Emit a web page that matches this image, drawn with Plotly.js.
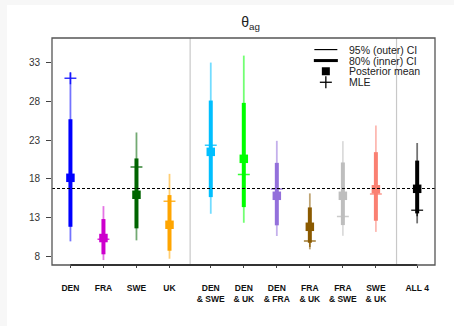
<!DOCTYPE html>
<html>
<head>
<meta charset="utf-8">
<script src="https://cdn.plot.ly/plotly-3.0.1.min.js"></script>
<style>
  html, body { margin: 0; padding: 0; background: #f7f7f7; width: 454px; height: 326px; overflow: hidden; }
  #chart { position: absolute; left: 7px; top: 5px; width: 447px; height: 321px; background: #ffffff; }
</style>
</head>
<body>
<div id="chart"></div>
<script>
// ---- data ----
const categories = ['DEN', 'FRA', 'SWE', 'UK', 'DEN<br>& SWE', 'DEN<br>& UK', 'DEN<br>& FRA',
                    'FRA<br>& UK', 'FRA<br>& SWE', 'SWE<br>& UK', 'ALL 4'];
const postMean = [18.13, 10.36, 15.94, 12.07, 21.48, 20.58, 15.81, 11.81, 15.81, 16.65, 16.71];
const mle      = [30.98, 10.19, 19.51, 15.09, 22.34, 18.56, 16.70, 9.97, 13.15, 16.03, 13.93];
const ci95Lo   = [9.93, 7.52, 10.06, 7.69, 13.49, 12.33, 10.62, 8.90, 10.65, 11.15, 12.25];
const ci95Hi   = [31.71, 14.48, 23.98, 18.64, 33.00, 33.90, 22.90, 16.12, 22.86, 24.88, 22.62];
const ci80Lo   = [11.81, 8.26, 11.61, 8.72, 15.64, 14.35, 12.00, 9.75, 12.03, 12.59, 13.54];
const ci80Hi   = [25.69, 12.81, 20.63, 15.90, 28.10, 27.80, 20.06, 14.31, 20.11, 21.44, 20.35];
const referenceValue = 16.75;
const yTickVals = [8, 13, 18, 23, 28, 33];

// ---- layout / style ----
const xPos = [1, 2, 3, 4, 5.25, 6.25, 7.25, 8.25, 9.25, 10.25, 11.5];
const separators = [4.625, 10.875];
const colors = ['#0000FF', '#CD00CD', '#006400', '#FFA500', '#00BFFF', '#00FF00',
                '#9370DB', '#8B5A00', '#BEBEBE', '#FA8072', '#000000'];

function rgba(hex, a) {
  const r = parseInt(hex.slice(1, 3), 16), g = parseInt(hex.slice(3, 5), 16), b = parseInt(hex.slice(5, 7), 16);
  return 'rgba(' + r + ',' + g + ',' + b + ',' + a + ')';
}

const traces = [];
categories.forEach((c, i) => {
  traces.push({
    x: [xPos[i], xPos[i]], y: [ci95Lo[i], ci95Hi[i]], mode: 'lines',
    line: { color: rgba(colors[i], 0.55), width: 1.8 }, hoverinfo: 'skip', showlegend: false
  });
  traces.push({
    x: [xPos[i], xPos[i]], y: [ci80Lo[i], ci80Hi[i]], mode: 'lines',
    line: { color: colors[i], width: 4 }, hoverinfo: 'skip', showlegend: false
  });
  traces.push({
    x: [xPos[i]], y: [postMean[i]], mode: 'markers',
    marker: { symbol: 'square', size: 8.5, color: colors[i] }, showlegend: false
  });
  traces.push({
    x: [xPos[i]], y: [mle[i]], mode: 'markers',
    marker: { symbol: 'cross-thin', size: 8.5, color: rgba(colors[i], 0.8),
              line: { color: rgba(colors[i], 0.8), width: 1.5 } }, showlegend: false
  });
});

const shapes = [];
// separators
separators.forEach(s => shapes.push({
  type: 'line', xref: 'x', yref: 'paper', x0: s, x1: s, y0: 0, y1: 1,
  line: { color: '#c8c8c8', width: 1.2 }
}));
// reference dashed line
shapes.push({
  type: 'line', xref: 'paper', yref: 'y', x0: 0, x1: 1, y0: referenceValue, y1: referenceValue,
  line: { color: '#000', width: 1, dash: '3px,2px' }
});
// box
shapes.push({
  type: 'rect', xref: 'paper', yref: 'paper', x0: 0, x1: 1, y0: 0, y1: 1,
  line: { color: '#555', width: 1.3 }
});
// bottom axis segment
shapes.push({
  type: 'line', xref: 'x', yref: 'paper', x0: xPos[0], x1: xPos[xPos.length - 1], y0: 0, y1: 0,
  line: { color: '#333', width: 2 }
});
// legend symbols
const lgX = 0.715, lgY = [0.949, 0.9006, 0.8535, 0.805];
shapes.push({ type: 'line', xref: 'paper', yref: 'paper', xsizemode: 'pixel', xanchor: lgX,
  x0: -11.5, x1: 11.5, y0: lgY[0], y1: lgY[0], line: { color: '#000', width: 1.2 } });
shapes.push({ type: 'line', xref: 'paper', yref: 'paper', xsizemode: 'pixel', xanchor: lgX,
  x0: -12, x1: 12, y0: lgY[1], y1: lgY[1], line: { color: '#000', width: 3 } });
shapes.push({ type: 'rect', xref: 'paper', yref: 'paper', xsizemode: 'pixel', ysizemode: 'pixel',
  xanchor: lgX, yanchor: lgY[2], x0: -4, x1: 4, y0: -4, y1: 4,
  fillcolor: '#000', line: { width: 0 } });
shapes.push({ type: 'line', xref: 'paper', yref: 'paper', xsizemode: 'pixel', xanchor: lgX,
  x0: -6, x1: 6, y0: lgY[3], y1: lgY[3], line: { color: '#000', width: 1.3 } });
shapes.push({ type: 'line', xref: 'paper', yref: 'paper', xsizemode: 'pixel', ysizemode: 'pixel',
  xanchor: lgX, yanchor: lgY[3], x0: 0, x1: 0, y0: -6, y1: 6, line: { color: '#000', width: 1.3 } });

const legendLabels = ['95% (outer) CI', '80% (inner) CI', 'Posterior mean', 'MLE'];
const annotations = legendLabels.map((t, i) => ({
  xref: 'paper', yref: 'paper', x: 0.7727, y: lgY[i], xanchor: 'left', yanchor: 'middle',
  text: t, showarrow: false, borderpad: 0,
  font: { family: 'Liberation Sans, Arial, sans-serif', size: 10.5, color: '#222' }
}));

const layout = {
  width: 447, height: 321,
  margin: { l: 45, r: 19, t: 33, b: 61 },
  paper_bgcolor: '#ffffff', plot_bgcolor: '#ffffff',
  showlegend: false,
  title: {
    text: 'θ<sub>ag</sub>', x: 0.545, xanchor: 'center', xref: 'container',
    y: 0.947, yanchor: 'middle', yref: 'container',
    font: { family: 'Liberation Sans, Arial, sans-serif', size: 14, color: '#222' }
  },
  xaxis: {
    range: [0.442, 12.04], showgrid: false, zeroline: false, showline: false,
    tickmode: 'array', tickvals: xPos, ticktext: categories.map(c => '<b>' + c + '</b>'),
    ticks: 'outside', ticklen: 2, tickwidth: 1, tickcolor: '#444',
    ticklabelstandoff: 13,
    tickfont: { family: 'Liberation Sans, Arial, sans-serif', size: 8.5, color: '#111' }
  },
  yaxis: {
    range: [6.88, 36.17], showgrid: false, zeroline: false, showline: false,
    tickmode: 'array', tickvals: yTickVals, ticktext: yTickVals.map(String),
    ticks: 'outside', ticklen: 5, tickwidth: 1, tickcolor: '#444',
    ticklabelstandoff: 4,
    tickfont: { family: 'Liberation Sans, Arial, sans-serif', size: 10, color: '#333' }
  },
  shapes: shapes,
  annotations: annotations
};

Plotly.newPlot('chart', traces, layout, { displayModeBar: false, staticPlot: true });
</script>
</body>
</html>
